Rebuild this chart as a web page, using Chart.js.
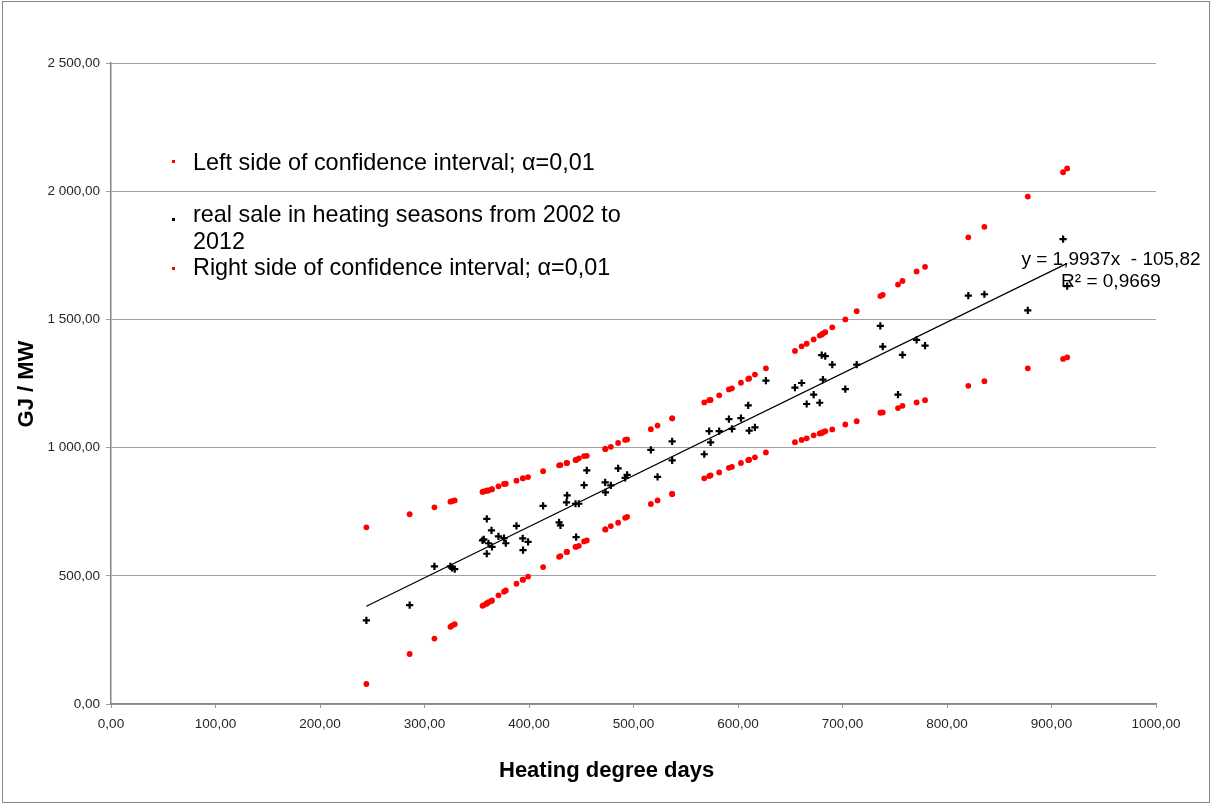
<!DOCTYPE html>
<html>
<head>
<meta charset="utf-8">
<script src="https://cdn.jsdelivr.net/npm/chart.js@4.4.1/dist/chart.umd.min.js"></script>
<style>
  body { margin: 0; background: #fff; }
  #wrap { position: relative; width: 1213px; height: 805px; font-family: "Liberation Sans", Arial, sans-serif; }
  #wrap canvas { position: absolute; left: 0; top: 0; }
  #frame { position: absolute; left: 2px; top: 1px; width: 1206px; height: 800px; border: 1px solid #888; pointer-events: none; }
  .txt { position: absolute; white-space: nowrap; color: #000; }
  .leg { font-size: 23.4px; line-height: 23px; left: 193px; }
  .dot { position: absolute; width: 3px; height: 3px; left: 172px; }
  .eq { font-size: 19px; line-height: 19px; width: 220px; left: 1001px; text-align: center; }
  .ttl { font-size: 22px; line-height: 22px; font-weight: bold; }
</style>
</head>
<body>
<div id="wrap">
  <canvas id="chart" width="1213" height="805"></canvas>
  <div id="frame"></div>

  <div class="dot" style="top:160px;background:#ff0000"></div>
  <div class="txt leg" style="top:151px">Left side of confidence interval; α=0,01</div>
  <div class="dot" style="top:218px;background:#000"></div>
  <div class="txt leg" style="top:203px">real sale in heating seasons from 2002 to</div>
  <div class="txt leg" style="top:229.5px">2012</div>
  <div class="dot" style="top:267px;background:#ff0000"></div>
  <div class="txt leg" style="top:256px">Right side of confidence interval; α=0,01</div>

  <div class="txt eq" id="eq1" style="top:249px"></div>
  <div class="txt eq" id="eq2" style="top:271px"></div>

  <div class="txt ttl" style="left:499px;top:759px">Heating degree days</div>
  <div class="txt ttl" style="left:-74px;top:373px;width:200px;text-align:center;transform:rotate(-90deg)">GJ / MW</div>
</div>
<script>
// heating degree days of each season month
var hdd = [244.4, 285.8, 309.5, 324.8, 326.3, 328.9, 355.5, 356.7, 359.6, 359.6,
           361.2, 364.1, 364.6, 370.8, 376.1, 377.8, 388.0, 394.0, 394.3, 399.1,
           413.5, 428.8, 430.1, 435.9, 436.5, 444.5, 445.1, 447.7, 452.7, 455.3,
           472.9, 473.2, 478.3, 485.3, 492.0, 493.9, 516.6, 523.0, 537.0, 537.0,
           567.7, 572.4, 573.8, 582.0, 591.3, 594.2, 602.8, 609.8, 610.7, 616.2,
           626.7, 654.5, 660.9, 665.7, 672.4, 678.2, 680.1, 681.3, 683.5, 690.2,
           702.7, 713.6, 736.2, 738.5, 753.1, 757.4, 770.9, 779.0, 820.4, 835.8,
           877.3, 911.1, 915.0];
var realSale = [326, 386, 537, 537, 531, 526, 638, 642, 722, 586,
                627, 677, 613, 654, 647, 627, 695, 646, 600, 632,
                773, 708, 697, 786, 814, 781, 651, 781, 854, 911,
                864, 825, 853, 919, 882, 894, 991, 886, 1024, 950,
                974, 1064, 1020, 1064, 1111, 1073, 1115, 1165, 1066, 1079,
                1261, 1234, 1252, 1170, 1207, 1175, 1361, 1265, 1357, 1324,
                1228, 1324, 1475, 1394, 1207, 1362, 1420, 1398, 1593, 1598,
                1535, 1813, 1630];
var leftCI = [78, 195, 255, 301, 306, 311, 383, 386, 392, 392,
              397, 402, 404, 424, 438, 443, 469, 485, 485, 497,
              534, 574, 577, 593, 593, 613, 613, 617, 634, 638,
              681, 681, 694, 707, 726, 730, 780, 794, 819, 819,
              880, 889, 892, 903, 921, 925, 940, 951, 953, 962,
              981, 1021, 1030, 1036, 1048, 1055, 1057, 1060, 1064, 1071,
              1090, 1103, 1136, 1137, 1154, 1163, 1176, 1185, 1241, 1259,
              1309, 1346, 1352];
var rightCI = [689, 740, 767, 789, 791, 794, 827, 829, 832, 832,
               833, 837, 838, 849, 858, 859, 871, 880, 880, 885,
               908, 931, 932, 940, 940, 952, 952, 958, 967, 968,
               995, 995, 1003, 1018, 1030, 1032, 1072, 1086, 1114, 1114,
               1176, 1185, 1186, 1204, 1227, 1231, 1253, 1268, 1270, 1285,
               1309, 1377, 1395, 1405, 1422, 1437, 1441, 1445, 1450, 1469,
               1500, 1532, 1591, 1596, 1636, 1650, 1687, 1705, 1820, 1861,
               1979, 2074, 2089];
var trendSlope = 1.9937;
var trendIntercept = -105.82;
var trendR2 = '0,9669';
var xTickLabels = ['0,00', '100,00', '200,00', '300,00', '400,00', '500,00', '600,00', '700,00', '800,00', '900,00', '1000,00'];
var yTickLabels = ['0,00', '500,00', '1 000,00', '1 500,00', '2 000,00', '2 500,00'];

function pts(ys) {
    return hdd.map(function (x, i) { return {x: x, y: ys[i]}; });
}

var xMin = Math.min.apply(null, hdd), xMax = Math.max.apply(null, hdd);
var trend = [xMin, xMax].map(function (x) { return {x: x, y: trendSlope * x + trendIntercept}; });

document.getElementById('eq1').textContent = 'y = ' + String(trendSlope).replace('.', ',') + 'x \u00a0- ' + String(-trendIntercept).replace('.', ',');
document.getElementById('eq2').textContent = 'R\u00b2 = ' + trendR2;

var tickFont = {family: '"Liberation Sans", Arial, sans-serif', size: 13.5};

new Chart(document.getElementById('chart'), {
    type: 'scatter',
    data: {
        datasets: [
            {label: 'Left side of confidence interval; α=0,01', data: pts(leftCI),
             pointStyle: 'circle', pointRadius: 2.9, pointBackgroundColor: '#ff0000', pointBorderWidth: 0},
            {label: 'real sale in heating seasons from 2002 to 2012', data: pts(realSale),
             pointStyle: 'cross', pointRadius: 3.6, pointBorderColor: '#000', pointBorderWidth: 2.2},
            {label: 'Right side of confidence interval; α=0,01', data: pts(rightCI),
             pointStyle: 'circle', pointRadius: 2.9, pointBackgroundColor: '#ff0000', pointBorderWidth: 0},
            {label: 'trend', data: trend, showLine: true, pointRadius: 0,
             borderColor: '#000', borderWidth: 1.2, fill: false}
        ]
    },
    options: {
        responsive: false,
        animation: false,
        layout: {padding: {top: 63, right: 57, left: 0, bottom: 0}},
        plugins: {legend: {display: false}, tooltip: {enabled: false}},
        scales: {
            x: {
                type: 'linear', min: 0, max: 1000,
                ticks: {stepSize: 100, autoSkip: false, maxRotation: 0, padding: 8.5, color: '#262626', font: tickFont,
                        callback: function (v, i) { return xTickLabels[i]; }},
                grid: {drawOnChartArea: false, tickLength: 4, color: '#999'},
                border: {color: '#868686', width: 1.5},
                afterFit: function (s) { s.height = 101; }
            },
            y: {
                min: 0, max: 2500,
                ticks: {stepSize: 500, padding: 6, color: '#262626', font: tickFont,
                        callback: function (v, i) { return yTickLabels[i]; }},
                grid: {color: '#a0a0a0', tickLength: 5},
                border: {color: '#868686', width: 1.5},
                afterFit: function (s) { s.width = 111; }
            }
        }
    }
});
</script>
</body>
</html>
